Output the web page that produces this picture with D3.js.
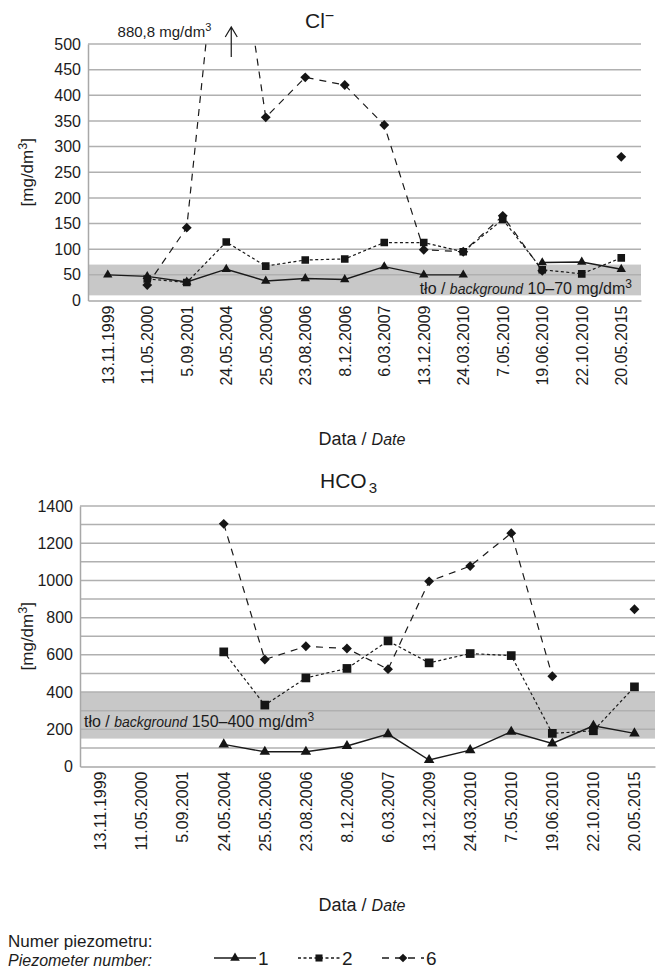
<!DOCTYPE html>
<html>
<head>
<meta charset="utf-8">
<script src="https://cdn.jsdelivr.net/npm/d3@7"></script>
<style>
  body { margin: 0; background: #fff; }
  svg { display: block; font-family: "Liberation Sans", Arial, sans-serif; }
</style>
</head>
<body>
<script>
// dates of sampling (category axis, same for both charts)
var dates = ["13.11.1999", "11.05.2000", "5.09.2001", "24.05.2004", "25.05.2006",
  "23.08.2006", "8.12.2006", "6.03.2007", "13.12.2009", "24.03.2010",
  "7.05.2010", "19.06.2010", "22.10.2010", "20.05.2015"];

// Cl- [mg/dm3], piezometers 1, 2, 6 (null = no sample)
var clP1 = [50, 47, 36, 61, 38, 43, 41, 66, 50, 50, null, 74, 75, 61];
var clP2 = [null, 42, 35, 114, 67, 79, 81, 113, 113, 95, 158, 60, 52, 83];
var clP6 = [null, 30, 142, 880.8, 357, 435, 420, 342, 99, 95, 165, 58, null, 280];

// HCO3 [mg/dm3]
var hcoP1 = [null, null, null, 119, 79, 79, 110, 174, 35, 88, 187, 124, 219, 178];
var hcoP2 = [null, null, null, 616, 330, 476, 527, 675, 557, 607, 596, 178, 192, 428];
var hcoP6 = [null, null, null, 1304, 575, 646, 634, 523, 995, 1077, 1254, 485, null, 845];

var clTicks = [0, 50, 100, 150, 200, 250, 300, 350, 400, 450, 500];
var hcoTicks = [0, 200, 400, 600, 800, 1000, 1200, 1400];
var hcoGrid = d3.range(0, 1401, 100);

var clBackground = [10, 70];
var hcoBackground = [150, 400];

var W = 661, H = 972;
var svg = d3.select("body").append("svg")
  .attr("width", W)
  .attr("height", H);

var txt = "#1c1c1c";
var markerFill = "#151515";
var fontFam = "Liberation Sans, Arial, sans-serif";

function drawChart(o) {
  var g = svg.append("g");
  var x = d3.scaleBand().domain(dates).range([o.left, o.right]);
  var y = d3.scaleLinear().domain([0, o.max]).range([o.bottom, o.top]);
  var cx = function(i) { return x(dates[i]) + x.bandwidth() / 2; };

  // background band
  g.append("rect")
    .attr("x", o.left).attr("width", o.right - o.left)
    .attr("y", y(o.band[1])).attr("height", y(o.band[0]) - y(o.band[1]))
    .attr("fill", "#c8c8c8");

  // gridlines
  g.selectAll(".grid").data(o.grid.filter(function(d) { return d > 0; }))
    .enter().append("line")
    .attr("x1", o.left).attr("x2", o.right)
    .attr("y1", function(d) { return y(d); }).attr("y2", function(d) { return y(d); })
    .attr("stroke", "#b0b0b0").attr("stroke-width", 1.5);

  // y axis
  var yAxis = g.append("g")
    .attr("transform", "translate(" + o.left + ",0)")
    .call(d3.axisLeft(y).tickValues(o.ticks).tickFormat(d3.format("d")).tickSize(0).tickPadding(7));
  yAxis.select(".domain").attr("stroke", "#a8a8a8").attr("stroke-width", 1.5);
  yAxis.selectAll("text").attr("font-size", 16).attr("fill", txt)
    .attr("font-family", fontFam);

  // x axis
  var xAxis = g.append("g")
    .attr("transform", "translate(0," + o.bottom + ")")
    .call(d3.axisBottom(x).tickSize(0).tickPadding(0));
  xAxis.select(".domain").attr("stroke", "#a8a8a8").attr("stroke-width", 1.5);
  xAxis.selectAll("text")
    .attr("font-size", 16).attr("fill", txt)
    .attr("font-family", fontFam)
    .attr("text-anchor", "end")
    .attr("transform", "translate(0,5) rotate(-90)")
    .attr("x", 0).attr("y", 0).attr("dy", "0.36em");

  // y axis title
  var yt = g.append("text")
    .attr("transform", "translate(33," + ((o.top + o.bottom) / 2) + ") rotate(-90)")
    .attr("text-anchor", "middle").attr("font-size", 17).attr("fill", txt);
  yt.append("tspan").text("[mg/dm");
  yt.append("tspan").attr("dy", -6).attr("font-size", 12.5).text("3");
  yt.append("tspan").attr("dy", 6).text("]");

  // x axis title
  var xt = g.append("text")
    .attr("x", 362).attr("y", o.bottom + 144)
    .attr("text-anchor", "middle").attr("font-size", 18).attr("fill", txt);
  xt.append("tspan").text("Data / ");
  xt.append("tspan").attr("font-style", "italic").attr("font-size", 16).text("Date");

  // background label
  var bl = g.append("text")
    .attr("x", o.bandLabelX).attr("y", o.bandLabelY)
    .attr("text-anchor", o.bandAnchor).attr("font-size", 16).attr("fill", txt);
  bl.append("tspan").text("tło / ");
  bl.append("tspan").attr("font-style", "italic").attr("font-size", 14).text("background");
  bl.append("tspan").text(" " + o.band[0] + "–" + o.band[1] + " mg/dm");
  bl.append("tspan").attr("dy", -6).attr("font-size", 12).text("3");

  // clip for lines going out of range
  var clipId = "clip" + o.id;
  svg.append("clipPath").attr("id", clipId).append("rect")
    .attr("x", o.left).attr("y", o.top)
    .attr("width", o.right - o.left).attr("height", o.bottom - o.top);

  var series = [
    { values: o.p1, dash: null, width: 1.4, symbol: d3.symbolTriangle, size: o.mk[0] },
    { values: o.p2, dash: "3,2.5", width: 1.2, symbol: d3.symbolSquare, size: o.mk[1] },
    { values: o.p6, dash: "7,6", width: 1.2, symbol: d3.symbolDiamond2, size: o.mk[2] }
  ];

  var line = d3.line()
    .defined(function(d) { return d != null; })
    .x(function(d, i) { return cx(i); })
    .y(function(d) { return y(d); });

  var lg = g.append("g").attr("clip-path", "url(#" + clipId + ")");
  series.forEach(function(s) {
    lg.append("path")
      .attr("d", line(s.values))
      .attr("fill", "none")
      .attr("stroke", "#1a1a1a")
      .attr("stroke-width", s.width)
      .attr("stroke-dasharray", s.dash);
  });
  series.forEach(function(s) {
    lg.selectAll(null).data(s.values.map(function(v, i) { return { v: v, i: i }; })
        .filter(function(d) { return d.v != null; }))
      .enter().append("path")
      .attr("d", d3.symbol().type(s.symbol).size(s.size))
      .attr("transform", function(d) { return "translate(" + cx(d.i) + "," + y(d.v) + ")"; })
      .attr("fill", markerFill);
  });

  return { x: x, y: y, cx: cx };
}

// --- Cl- chart
var top1 = drawChart({
  id: 1, left: 88, right: 641, top: 44, bottom: 300.5, max: 500,
  ticks: clTicks, grid: clTicks, band: clBackground,
  p1: clP1, p2: clP2, p6: clP6, mk: [38, 58, 62],
  bandLabelX: 632, bandLabelY: 294, bandAnchor: "end"
});

var t1 = svg.append("text").attr("x", 305).attr("y", 28)
  .attr("font-size", 21).attr("fill", txt);
t1.append("tspan").text("Cl");
t1.append("tspan").attr("dy", -7).attr("font-size", 16).text("−");

// off-scale value note with arrow
var ax = top1.cx(dates.indexOf("24.05.2004")) + 5;
svg.append("path")
  .attr("d", "M" + ax + ",57 L" + ax + ",27 M" + (ax - 6) + ",37 L" + ax + ",27 L" + (ax + 6) + ",37")
  .attr("fill", "none").attr("stroke", "#1a1a1a").attr("stroke-width", 1.2);
var note = svg.append("text").attr("x", ax - 20).attr("y", 37)
  .attr("text-anchor", "end").attr("font-size", 15).attr("fill", txt);
note.append("tspan").text("880,8 mg/dm");
note.append("tspan").attr("dy", -6).attr("font-size", 11).text("3");

// --- HCO3 chart
drawChart({
  id: 2, left: 80, right: 655, top: 506, bottom: 766.5, max: 1400,
  ticks: hcoTicks, grid: hcoGrid, band: hcoBackground,
  p1: hcoP1, p2: hcoP2, p6: hcoP6, mk: [48, 76, 62],
  bandLabelX: 84, bandLabelY: 727, bandAnchor: "start"
});

var t2 = svg.append("text").attr("x", 320).attr("y", 488)
  .attr("font-size", 21).attr("fill", txt);
t2.append("tspan").text("HCO");
t2.append("tspan").attr("dy", 5).attr("dx", 2).attr("font-size", 15).text("3");

// --- legend
svg.append("text").attr("x", 8).attr("y", 947)
  .attr("font-size", 17).attr("fill", txt).text("Numer piezometru:");
svg.append("text").attr("x", 8).attr("y", 966)
  .attr("font-size", 16).attr("font-style", "italic").attr("fill", txt).text("Piezometer number:");

var legendItems = [
  { label: "1", x: 214, dash: null, symbol: d3.symbolTriangle, size: 40 },
  { label: "2", x: 298, dash: "3,2.5", symbol: d3.symbolSquare, size: 50 },
  { label: "6", x: 382, dash: "7,6", symbol: d3.symbolDiamond2, size: 48 }
];
var ly = 958;
legendItems.forEach(function(d) {
  svg.append("line")
    .attr("x1", d.x).attr("x2", d.x + 42).attr("y1", ly).attr("y2", ly)
    .attr("stroke", "#1a1a1a").attr("stroke-width", 1.3)
    .attr("stroke-dasharray", d.dash);
  svg.append("path")
    .attr("d", d3.symbol().type(d.symbol).size(d.size))
    .attr("transform", "translate(" + (d.x + 21) + "," + ly + ")")
    .attr("fill", markerFill);
  svg.append("text").attr("x", d.x + 44).attr("y", ly + 7)
    .attr("font-size", 19).attr("fill", txt).text(d.label);
});
</script>
</body>
</html>
